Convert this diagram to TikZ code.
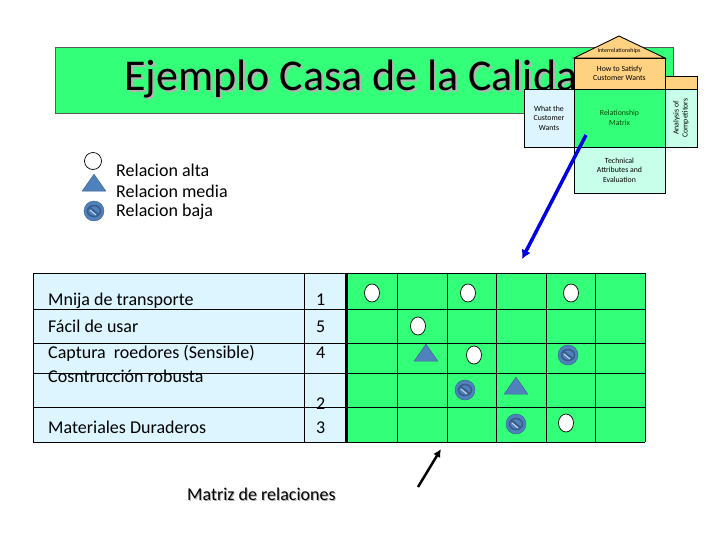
\documentclass[tikz,border=0pt]{standalone}
\usepackage{fontspec}
\setmainfont{Carlito}
\usetikzlibrary{arrows.meta,shapes.geometric}
\definecolor{mgreen}{RGB}{51,255,120}
\definecolor{lblue}{RGB}{220,245,255}
\definecolor{lmint}{RGB}{200,255,235}
\definecolor{morange}{RGB}{255,210,130}
\definecolor{sblue}{RGB}{79,129,189}
\definecolor{dblue}{RGB}{56,93,138}
\tikzset{
 box/.style={draw=black,line width=0.9pt},
 hbox/.style={draw=black,line width=0.8pt,font=\fontsize{7.8}{9.5}\selectfont,align=center,inner sep=0pt},
 cellt/.style={anchor=base west,font=\fontsize{18}{21}\selectfont,inner sep=0pt},
 lgt/.style={anchor=west,font=\fontsize{18}{21}\selectfont,inner sep=0pt},
 alta/.style={draw=black,fill=white,ellipse,minimum width=15pt,minimum height=18pt,inner sep=0pt,line width=0.7pt},
 media/.style={fill=sblue,draw=dblue,isosceles triangle,shape border rotate=90,isosceles triangle apex angle=70,minimum height=17pt,minimum width=22pt,inner sep=0pt},
}
\newcommand{\bajasym}[2]{%
 \fill[sblue,draw=dblue] (#1,#2) circle (10);
 \draw[dblue,line width=1.6pt] (#1,#2) ellipse (6.5 and 5.5);
 \draw[dblue,line width=1.8pt] (#1-4.5,#2-3.5) -- (#1+4.5,#2+3.5);
 \draw[white!70!sblue,line width=1pt] (#1-4,#2-1) -- (#1+2,#2+4);
}
\begin{document}
\begin{tikzpicture}[x=1pt,y=-1pt]
\useasboundingbox (0,0) rectangle (728,546);
% title
\fill[mgreen] (55,47) rectangle (673,113);
\draw[line width=0.5pt,gray!70!black] (55,47) rectangle (673,113);
\node (title)[anchor=west,font=\fontsize{44}{50}\selectfont,inner sep=0] at (124,80) {\makebox[0pt][l]{\hspace{2pt}\raisebox{-2pt}{\textcolor{gray!60}{Ejemplo Casa de la Calidad}}}Ejemplo Casa de la Calidad};
% house
\draw[box,fill=morange] (574,58) -- (619,36) -- (665,58) -- cycle;
\node (inter) [font=\fontsize{6}{7}\selectfont,inner sep=0] at (619,51) {Interrelationships};
\node (how)[hbox,fill=morange,minimum width=91pt,minimum height=31pt] at (619.5,73.5) {How to Satisfy\\Customer Wants};
\draw[box,fill=morange] (665,76) rectangle (697,89);
\node (what)[hbox,fill=lblue,minimum width=50pt,minimum height=58pt] at (549,118) {What the\\Customer\\Wants};
\node (mat)[hbox,fill=mgreen,minimum width=91pt,minimum height=58pt,text=black!70!green] at (619.5,118) {Relationship\\Matrix};
\node (ana)[hbox,fill=lmint,minimum width=32pt,minimum height=58pt] at (681,118) {};
\node[rotate=90,font=\fontsize{7.8}{9}\selectfont,align=center,inner sep=0] at (681,118) {Analysis of\\Competitors};
\node (tech)[hbox,fill=lmint,minimum width=91pt,minimum height=46pt] at (619.5,170) {Technical\\Attributes and\\Evaluation};
\coordinate (bstart) at (586,135);
\coordinate (bend) at (522,259);
\draw[blue!90!black,line width=3.5pt,-{Latex[length=9pt,width=10pt]}] (bstart) -- (bend);
% legend
\node (l1)[alta,minimum width=17pt,minimum height=17pt] at (93,161) {};
\node (l2)[media] at (94,185) {};
\bajasym{94}{211}
\node (l1t)[lgt] at (116,170) {Relacion alta};
\node (l2t)[lgt] at (116,191) {Relacion media};
\node (l3t)[lgt] at (116,212) {Relacion baja};
% table
\fill[lblue] (33,273) rectangle (346,442);
\fill[mgreen] (346,273) rectangle (645,442);
\foreach \y in {273,309,343,373,407,442} \draw[box] (33,\y) -- (645,\y);
\foreach \x in {33,304,347,397,447,496,546,595,645} \draw[box] (\x,273) -- (\x,442);
\draw[line width=2pt] (346,273) -- (346,442);
\node[cellt] at (48,305) {Mnija de transporte};
\node[cellt] at (48,332) {Fácil de usar};
\node[cellt] at (48,358) {Captura\ \ roedores (Sensible)};
\node[cellt] at (48,382) {Cosntrucción robusta};
\node[cellt] at (48,433) {Materiales Duraderos};
\node[cellt] at (316,305) {1};
\node[cellt] at (316,332) {5};
\node[cellt] at (316,358) {4};
\node[cellt] at (316,409) {2};
\node[cellt] at (316,433) {3};
\node (a1)[alta] at (372,293) {};
\node (a2)[alta] at (468,293) {};
\node (a3)[alta] at (571,293) {};
\node (a4)[alta] at (418,326) {};
\node (m1)[media] at (426,355) {};
\node (a5)[alta] at (474,355) {};
\bajasym{568}{355}
\bajasym{465}{390}
\node (m2)[media] at (516,388) {};
\bajasym{516}{424}
\node (a6)[alta] at (566,423) {};
% bottom
\coordinate (kstart) at (418,487);
\coordinate (kend) at (441,449);
\draw[line width=2.5pt,-{Latex[length=8pt,width=8pt]}] (kstart) -- (kend);
\node (mr)[font=\fontsize{18}{21}\selectfont,inner sep=0,anchor=west] at (187,495) {\makebox[0pt][l]{\hspace{1pt}\raisebox{-1pt}{\textcolor{gray!60}{Matriz de relaciones}}}Matriz de relaciones};
\end{tikzpicture}
\end{document}
